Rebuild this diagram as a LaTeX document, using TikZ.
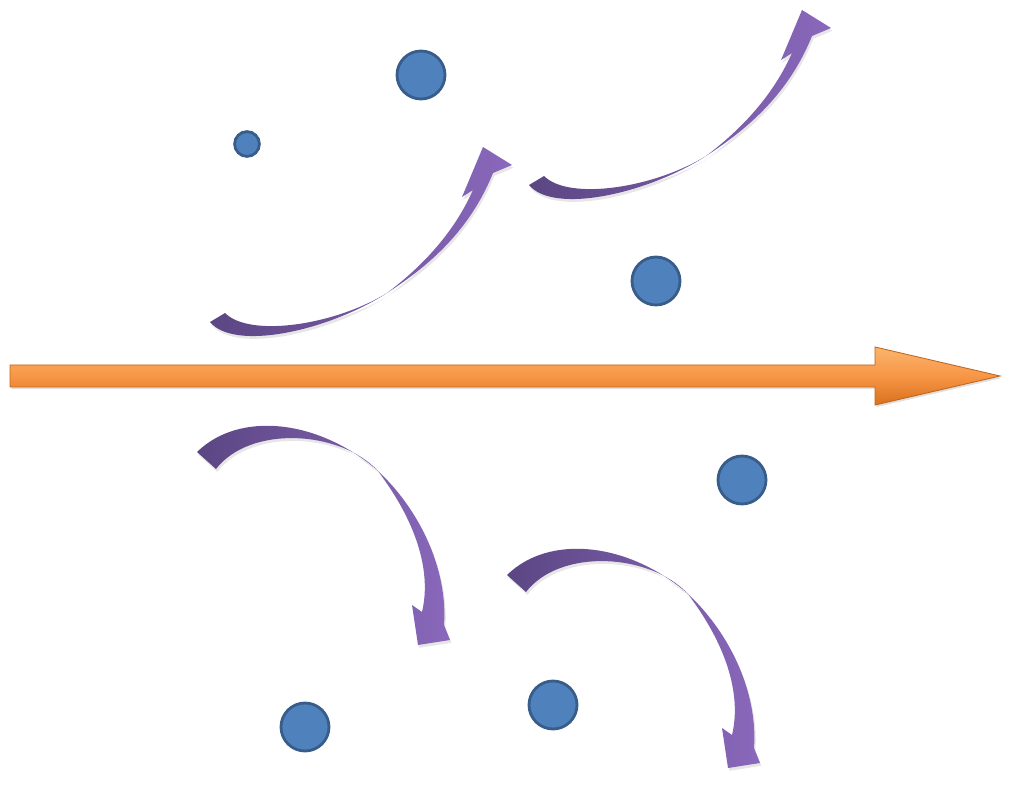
\documentclass[tikz,border=0pt]{standalone}
\usepackage{tikz}
\usetikzlibrary{shadows}
\definecolor{particleFill}{HTML}{4F81BD}
\definecolor{particleLine}{HTML}{385D8A}
\definecolor{flowLight}{HTML}{FBB46E}
\definecolor{flowMid}{HTML}{F79646}
\definecolor{flowDark}{HTML}{D9701E}
\definecolor{flowLine}{HTML}{C0651A}
\definecolor{swirlDark}{HTML}{5B4683}
\definecolor{swirlLight}{HTML}{8A68BC}
\tikzset{
  particle/.style={
    circle,
    fill=particleFill,
    draw=particleLine,
    line width=2pt,
    inner sep=0pt,
    minimum size=1.2cm
  },
  small particle/.style={
    particle,
    minimum size=0.62cm
  },
  flow arrow/.style={
    top color=flowLight,
    bottom color=flowDark,
    middle color=flowMid,
    draw=flowLine,
    line width=0.6pt,
    drop shadow={opacity=0.25, shadow xshift=1pt, shadow yshift=-1.5pt}
  },
  swirl/.style={
    left color=swirlDark,
    right color=swirlLight,
    drop shadow={opacity=0.2, shadow xshift=1pt, shadow yshift=-2pt}
  },
  % twisted arrow rising to the upper right
  rise arrow/.pic={
    \shade[swirl] (210,322)
      .. controls (235,352) and (330,330) .. (387,293)
      .. controls (430,265) and (470,230) .. (493,173)
      -- (512,165) -- (483,147) -- (462,197) -- (473,190)
      .. controls (456,228) and (428,262) .. (387,293)
      .. controls (335,325) and (250,338) .. (225,313)
      -- cycle;
  },
  % twisted arrow falling to the lower right
  fall arrow/.pic={
    \shade[swirl] (197,452)
      .. controls (240,410) and (320,420) .. (378,471)
      .. controls (420,510) and (448,570) .. (444,625)
      -- (450,640) -- (418,645) -- (412,605) -- (422,612)
      .. controls (432,570) and (415,520) .. (378,471)
      .. controls (340,430) and (250,425) .. (216,469)
      -- cycle;
  }
}

\begin{document}
\begin{tikzpicture}[x=0.025cm, y=-0.025cm]
  \useasboundingbox (0,0) rectangle (1010,786);

  % Hauptstroemung
  \shade[flow arrow] (10,365) -- (875,365) -- (875,347) -- (1000,376)
    -- (875,405) -- (875,387) -- (10,387) -- cycle;

  % Wirbel oberhalb
  \pic at (0,0) {rise arrow};
  \pic at (319,-137) {rise arrow};

  % Wirbel unterhalb
  \pic at (0,0) {fall arrow};
  \pic at (310,123) {fall arrow};

  % Teilchen
  \node[particle] (p1) at (421,75) {};
  \node[small particle] (p2) at (247,144) {};
  \node[particle] (p3) at (656,281) {};
  \node[particle] (p4) at (742,480) {};
  \node[particle] (p5) at (553,705) {};
  \node[particle] (p6) at (305,727) {};
\end{tikzpicture}
\end{document}
